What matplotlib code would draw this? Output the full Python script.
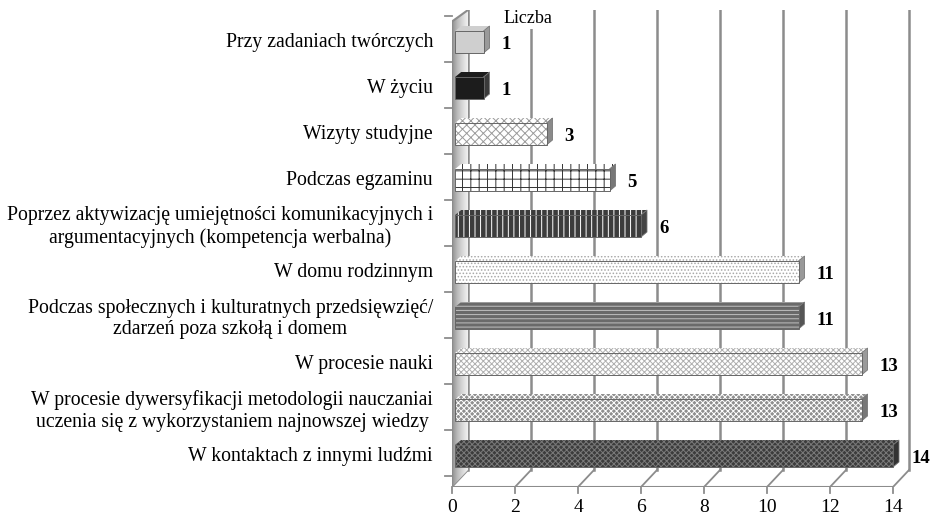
import numpy as np
import matplotlib.pyplot as plt
from matplotlib.patches import Polygon

plt.rcParams['font.family'] = ['Liberation Serif', 'DejaVu Serif']
plt.rcParams['hatch.linewidth'] = 0.7

# Data (top to bottom as shown)
categories = [
    'Przy zadaniach twórczych',
    'W życiu',
    'Wizyty studyjne',
    'Podczas egzaminu',
    'Poprzez aktywizację umiejętności komunikacyjnych i\nargumentacyjnych (kompetencja werbalna)',
    'W domu rodzinnym',
    'Podczas społecznych i kulturatnych przedsięwzięć/\nzdarzeń poza szkołą i domem',
    'W procesie nauki',
    'W procesie dywersyfikacji metodologii nauczaniai\nuczenia się z wykorzystaniem najnowszej wiedzy',
    'W kontaktach z innymi ludźmi',
]
values = [1, 1, 3, 5, 6, 11, 11, 13, 13, 14]
x_ticks = [0, 2, 4, 6, 8, 10, 12, 14]
series_name = 'Liczba'

# fill colour, hatch colour, hatch, side colour
styles = [
    ('#cfcfcf', '#cfcfcf', None, '#9a9a9a'),
    ('#1c1c1c', '#1c1c1c', None, '#3a3a3a'),
    ('#ffffff', '#9a9a9a', 'xxxx', '#8a8a8a'),
    ('#ffffff', '#333333', '++', '#777777'),
    ('#3c3c3c', '#ffffff', '|||', '#444444'),
    ('#ffffff', '#a8a8a8', '.....', '#999999'),
    ('#6a6a6a', '#c0c0c0', '----', '#555555'),
    ('#ffffff', '#b0b0b0', 'xxxxxx', '#9a9a9a'),
    ('#8f8f8f', '#ffffff', 'xxxxxx', '#777777'),
    ('#3c3c3c', '#7a7a7a', 'xxxxxx', '#333333'),
]

W, H = 930, 518
fig = plt.figure(figsize=(9.3, 5.18), dpi=100)
# axes in pixel geometry: x 0 at px 452, 14 at px 893; y px 10..487
px_per_unit = (893 - 452) / 14
left_px, right_px = 452, 912
top_px, bottom_px = 10, 487
ax = fig.add_axes([left_px / W, 1 - bottom_px / H, (right_px - left_px) / W, (bottom_px - top_px) / H])
xmax = (right_px - left_px) / px_per_unit
ymin = -(bottom_px - 456) / 46
ymax = (456 - top_px) / 46
ax.set_xlim(0, xmax)
ax.set_ylim(ymin, ymax)
ax.axis('off')

wall_dx = 16 / px_per_unit
wall_dy = 17 / 46
bar_dx = 6 / px_per_unit
bar_dy = 5 / 46
bar_h = 22 / 46
grid_c = '#8c8c8c'

# left wall with shading
wall = Polygon([(0, ymin), (wall_dx, ymin + wall_dy), (wall_dx, ymax), (0, ymax - 0.25)],
               closed=True, facecolor='#e6e6e6', edgecolor='none', zorder=1)
ax.add_patch(wall)
grad = np.linspace(0, 1, 50).reshape(1, -1)
im = ax.imshow(grad, extent=[0, wall_dx, ymin, ymax], cmap='Greys_r', vmin=-1.2, vmax=1.3,
               aspect='auto', zorder=1.5)
im.set_clip_path(wall)
ax.plot([0, 0], [ymin, ymax - 0.25], color=grid_c, lw=1.5, zorder=2)
ax.plot([0, wall_dx], [ymax - 0.25, ymax], color=grid_c, lw=1.5, zorder=2)

# back wall gridlines and floor
for t in x_ticks:
    ax.plot([t + wall_dx, t + wall_dx], [ymin + wall_dy, ymax], color=grid_c, lw=1.8, zorder=1)
    ax.plot([t, t + wall_dx], [ymin, ymin + wall_dy], color=grid_c, lw=1.3, zorder=1)
    ax.plot([t, t], [ymin, ymin - 0.12], color=grid_c, lw=1.3, zorder=1, clip_on=False)
ax.plot([0, x_ticks[-1]], [ymin, ymin], color=grid_c, lw=1.5, zorder=2)

# left axis tick marks
n = len(categories)
for i in range(n + 1):
    yb = i - 0.5 + 0.06
    ax.plot([-0.22, 0], [yb, yb], color=grid_c, lw=1.3, clip_on=False, zorder=2)

# bars
for i, (cat, v, st) in enumerate(zip(categories, values, styles)):
    y = n - 1 - i
    face, hcol, hatch, side = st
    x0 = 0.1
    top = Polygon([(x0, y + bar_h / 2), (v, y + bar_h / 2), (v + bar_dx, y + bar_h / 2 + bar_dy),
                   (x0 + bar_dx, y + bar_h / 2 + bar_dy)], closed=True,
                  facecolor=face, edgecolor=hcol, hatch=hatch, lw=0, zorder=3)
    ax.add_patch(top)
    sidep = Polygon([(v, y - bar_h / 2), (v + bar_dx, y - bar_h / 2 + bar_dy),
                     (v + bar_dx, y + bar_h / 2 + bar_dy), (v, y + bar_h / 2)], closed=True,
                    facecolor=side, edgecolor='#777777', lw=0.6, zorder=3)
    ax.add_patch(sidep)
    ax.barh(y, v - x0, left=x0, height=bar_h, color=face, edgecolor=hcol, hatch=hatch, lw=0, zorder=4)
    ax.barh(y, v - x0, left=x0, height=bar_h, fill=False, edgecolor='#666666', lw=0.7, zorder=5)
    ax.text(v + bar_dx + 12 / px_per_unit, y - 0.06, str(v), fontsize=13.5, fontweight='bold',
            ha='left', va='center', zorder=6, clip_on=False)
    ax.text(-19 / px_per_unit, y - 0.02, cat, fontsize=14.2, ha='right', va='center',
            multialignment='center', linespacing=1.2, clip_on=False)

for t in x_ticks:
    ax.text(t, ymin - 0.45, str(t), fontsize=14, ha='center', va='center', clip_on=False)

ax.text(2.4, ymax - 0.19, series_name, fontsize=13, ha='center', va='center', zorder=6,
        bbox=dict(facecolor='white', edgecolor='none', pad=1))

plt.savefig('out.png', dpi=100)
